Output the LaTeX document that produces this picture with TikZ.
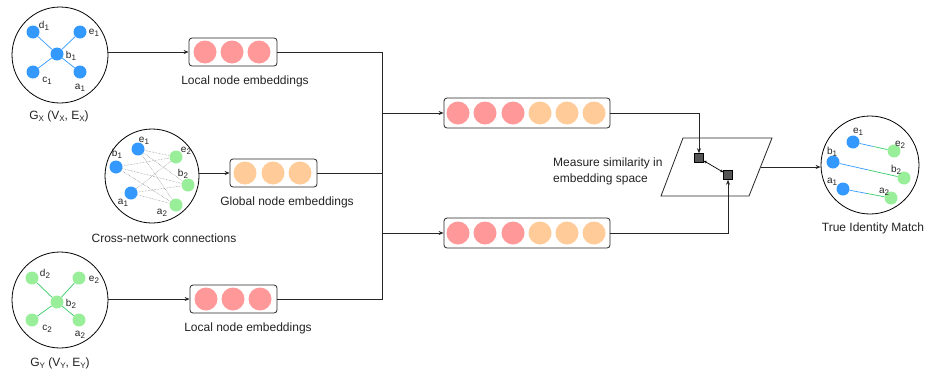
\documentclass[tikz,border=0pt]{standalone}
\usepackage{fontspec}
\setmainfont{Liberation Sans}
\usetikzlibrary{arrows.meta,calc}
\definecolor{dotblue}{HTML}{3399FF}
\definecolor{dotgreen}{HTML}{99EE99}
\definecolor{linegreen}{HTML}{33CC66}
\definecolor{embred}{HTML}{FF9999}
\definecolor{emborange}{HTML}{FFCC99}
\definecolor{sqgray}{HTML}{555555}
\definecolor{txt}{HTML}{222222}
\newcommand\sbs[1]{\raisebox{-0.4ex}{\fontsize{8}{9}\selectfont #1}}
\begin{document}
\begin{tikzpicture}[x=1pt,y=-1pt,
  bdot/.style={circle,fill=dotblue,inner sep=0,minimum size=13pt},
  gdot/.style={circle,fill=dotgreen,inner sep=0,minimum size=13pt},
  lab/.style={font=\fontsize{10}{12}\selectfont,inner sep=0,text=txt},
  captxt/.style={font=\fontsize{12}{14}\selectfont,inner sep=0,text=txt},
  graphc/.style={circle,draw=black,line width=0.8pt,inner sep=0},
  ebox/.style={draw=black!85,line width=0.8pt,rounded corners=3pt,inner sep=0,minimum height=28pt},
  rdot/.style={circle,fill=embred,inner sep=0,minimum size=23pt},
  odot/.style={circle,fill=emborange,inner sep=0,minimum size=23pt},
  conn/.style={line width=0.8pt,draw=black!85},
  arr/.style={conn,-{Stealth[length=5pt,width=4pt]}},
  bedge/.style={dotblue,line width=0.7pt},
  gedge/.style={linegreen,line width=0.7pt},
  xedge/.style={gray,densely dotted,line width=0.5pt},
  sq/.style={draw=black,fill=sqgray,inner sep=0,minimum size=9pt,line width=0.5pt}]
\useasboundingbox (0,0) rectangle (926,378);

% ---------- G_X ----------
\node[graphc,minimum size=96pt] (gx) at (60,55) {};
\node[bdot] (xd) at (33,32) {};
\node[bdot] (xe) at (80,32) {};
\node[bdot] (xb) at (57,54) {};
\node[bdot] (xc) at (33,72) {};
\node[bdot] (xa) at (80,72) {};
\foreach \n in {xd,xe,xc,xa} \draw[bedge] (xb) -- (\n);
\node[lab] (lxd) at (44,26) {d\sbs{1}};
\node[lab] (lxe) at (94,33) {e\sbs{1}};
\node[lab] (lxb) at (71,56) {b\sbs{1}};
\node[lab] (lxc) at (47,81) {c\sbs{1}};
\node[lab] (lxa) at (80,88) {a\sbs{1}};
\node[captxt] (gxl) at (59,116) {G\sbs{X} (V\sbs{X}, E\sbs{X})};

% ---------- Cross-network ----------
\node[graphc,minimum size=94pt] (cx) at (152,176) {};
\node[bdot] (ce1) at (138,149) {};
\node[bdot] (cb1) at (116,167) {};
\node[bdot] (ca1) at (131,193) {};
\node[gdot] (ce2) at (176,157) {};
\node[gdot] (cb2) at (188,185) {};
\node[gdot] (ca2) at (176,205) {};
\foreach \u in {ce1,cb1,ca1} \foreach \v in {ce2,cb2,ca2} \draw[xedge] (\u) -- (\v);
\node[lab] (lce1) at (144,141) {e\sbs{1}};
\node[lab] (lcb1) at (117,154) {b\sbs{1}};
\node[lab] (lca1) at (123,203) {a\sbs{1}};
\node[lab] (lce2) at (186,151) {e\sbs{2}};
\node[lab] (lcb2) at (183,174) {b\sbs{2}};
\node[lab] (lca2) at (162,213) {a\sbs{2}};
\node[captxt] (cxl) at (164,238) {Cross-network connections};

% ---------- G_Y ----------
\node[graphc,minimum size=96pt] (gy) at (60,300) {};
\node[gdot] (yd) at (32,278) {};
\node[gdot] (ye) at (79,278) {};
\node[gdot] (yb) at (57,302) {};
\node[gdot] (yc) at (32,320) {};
\node[gdot] (ya) at (79,320) {};
\foreach \n in {yd,ye,yc,ya} \draw[gedge] (yb) -- (\n);
\node[lab] (lyd) at (45,274) {d\sbs{2}};
\node[lab] (lye) at (94,280) {e\sbs{2}};
\node[lab] (lyb) at (71,304) {b\sbs{2}};
\node[lab] (lyc) at (47,329) {c\sbs{2}};
\node[lab] (lya) at (80,335) {a\sbs{2}};
\node[captxt] (gyl) at (60,363) {G\sbs{Y} (V\sbs{Y}, E\sbs{Y})};

% ---------- embedding boxes ----------
\node[ebox,minimum width=88pt] (loc1) at (233,52) {};
\foreach \x in {205,232,259} \node[rdot] at (\x,52) {};
\node[captxt] (loc1l) at (245,81) {Local node embeddings};

\node[ebox,minimum width=87pt] (glob) at (273.5,173) {};
\foreach \x in {245,273,300} \node[odot] at (\x,173) {};
\node[captxt] (globl) at (287,202) {Global node embeddings};

\node[ebox,minimum width=87pt] (loc2) at (233.5,299) {};
\foreach \x in {206,233,260} \node[rdot] at (\x,299) {};
\node[captxt] (loc2l) at (248,328) {Local node embeddings};

\node[ebox,minimum width=166pt,minimum height=30pt] (cat1) at (527,113) {};
\node[ebox,minimum width=166pt,minimum height=30pt] (cat2) at (527,233) {};
\foreach \y in {113,233} {
  \foreach \x in {458,485,513} \node[rdot] at (\x,\y) {};
  \foreach \x in {540,567,594} \node[odot] at (\x,\y) {};
}

% ---------- connectors to boxes ----------
\draw[arr] (gx.east |- loc1) -- (loc1.west);
\draw[arr] (cx.east |- glob) -- (glob.west);
\draw[arr] (gy.east |- loc2) -- (loc2.west);

\coordinate (bt) at (382,52);
\coordinate (bb) at (382,299);
\draw[conn] (loc1.east) -- (bt) -- (bb) -- (loc2.east);
\draw[conn] (glob.east) -- (glob.east -| bt);
\draw[arr] (bt |- cat1) -- (cat1.west);
\draw[arr] (bt |- cat2) -- (cat2.west);

% ---------- similarity space ----------
\draw[line width=0.8pt,draw=black!85] (683,138) -- (772,138) -- (749,196) -- (661,196) -- cycle;
\coordinate (pr) at (760.5,167);
\node[sq] (sq1) at (699,158) {};
\node[sq] (sq2) at (728,175) {};
\draw[arr] (cat1.east) -| (sq1.north);
\draw[arr] (cat2.east) -| (sq2.south);
\draw[line width=0.7pt,{Stealth[length=3pt,width=3pt]}-{Stealth[length=3pt,width=3pt]}] (sq1) -- (sq2);
\node[captxt,anchor=west,align=left,font=\fontsize{12}{16}\selectfont] (meas) at (553,171) {Measure similarity in\\embedding space};

% ---------- true identity match ----------
\node[graphc,minimum size=98pt] (fin) at (870,165) {};
\node[bdot] (fe1) at (853,142) {};
\node[gdot] (fe2) at (894,151) {};
\node[bdot] (fb1) at (833,162) {};
\node[gdot] (fb2) at (904,178) {};
\node[bdot] (fa1) at (843,189) {};
\node[gdot] (fa2) at (891,198) {};
\foreach \u/\v in {fe1/fe2,fb1/fb2,fa1/fa2} {
  \draw[bedge] (\u) -- ($(\u)!0.5!(\v)$);
  \draw[gedge] ($(\u)!0.5!(\v)$) -- (\v);
}
\node[lab] (lfe1) at (858,132) {e\sbs{1}};
\node[lab] (lfb1) at (832,152) {b\sbs{1}};
\node[lab] (lfa1) at (832,182) {a\sbs{1}};
\node[lab] (lfe2) at (900,145) {e\sbs{2}};
\node[lab] (lfb2) at (896,170) {b\sbs{2}};
\node[lab] (lfa2) at (884,192) {a\sbs{2}};
\node[captxt] (finl) at (873,228) {True Identity Match};
\draw[arr] (pr) -- (pr -| fin.west);
\end{tikzpicture}
\end{document}
